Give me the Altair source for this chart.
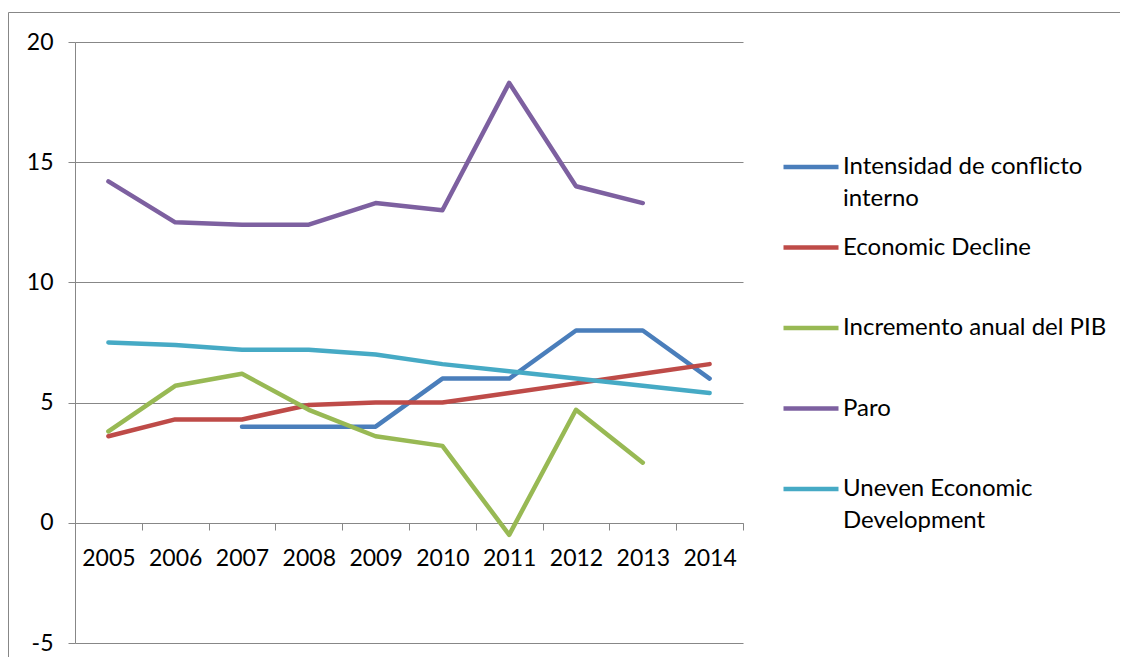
import json
import altair as alt
import pandas as pd

# ---- data ----
years = [2005, 2006, 2007, 2008, 2009, 2010, 2011, 2012, 2013, 2014]
series_names = [
    "Intensidad de conflicto interno",
    "Economic Decline",
    "Incremento anual del PIB",
    "Paro",
    "Uneven Economic Development",
]
intensidad = [None, None, 4.0, 4.0, 4.0, 6.0, 6.0, 8.0, 8.0, 6.0]
economic_decline = [3.6, 4.3, 4.3, 4.9, 5.0, 5.0, 5.4, 5.8, 6.2, 6.6]
incremento_pib = [3.8, 5.7, 6.2, 4.7, 3.6, 3.2, -0.5, 4.7, 2.5, None]
paro = [14.2, 12.5, 12.4, 12.4, 13.3, 13.0, 18.3, 14.0, 13.3, None]
uneven = [7.5, 7.4, 7.2, 7.2, 7.0, 6.6, 6.3, 6.0, 5.7, 5.4]
colors = ["#4A7EBB", "#BE4B48", "#98B954", "#7D60A0", "#46AAC5"]
legend_lines = [
    ["Intensidad de conflicto", "interno"],
    ["Economic Decline", ""],
    ["Incremento anual del PIB", ""],
    ["Paro", ""],
    ["Uneven Economic", "Development"],
]
y_ticks = [-5, 0, 5, 10, 15, 20]
x_tick_edges = [2004.5, 2005.5, 2006.5, 2007.5, 2008.5, 2009.5,
                2010.5, 2011.5, 2012.5, 2013.5, 2014.5]

rows = []
for name, vals in zip(series_names, [intensidad, economic_decline, incremento_pib, paro, uneven]):
    for yr, v in zip(years, vals):
        if v is not None:
            rows.append({"year": yr, "value": v, "serie": name})
df = pd.DataFrame(rows)

label_expr = " : ".join(
    f"datum.label == '{n}' ? {json.dumps(l)}" for n, l in zip(series_names, legend_lines)
) + " : datum.label"

FONT = "Lato"
GRAY = "#878787"
W, H = 668, 601

lines = alt.Chart(df).mark_line(strokeWidth=4.5, strokeCap="round", strokeJoin="round").encode(
    x=alt.X("year:Q",
            scale=alt.Scale(domain=[2004.5, 2014.5], nice=False, zero=False),
            axis=alt.Axis(values=x_tick_edges, title=None, grid=False, tickSize=7,
                          labelPadding=17, offset=-120, labelOffset=33.4,
                          labelOverlap=False, labelFlush=False,
                          labelExpr="datum.value < 2014 ? format(datum.value + 0.5, 'd') : ''")),
    y=alt.Y("value:Q",
            scale=alt.Scale(domain=[-5, 20], nice=False, zero=False),
            axis=alt.Axis(values=y_ticks, title=None, grid=True, tickSize=7,
                          labelPadding=15,
                          labelExpr="datum.value < 0 ? '-' + abs(datum.value) : datum.label")),
    color=alt.Color("serie:N",
                    scale=alt.Scale(domain=series_names, range=colors),
                    sort=series_names,
                    legend=alt.Legend(title=None, orient="none", legendX=706, legendY=95,
                                      symbolType="stroke", symbolSize=3025,
                                      symbolStrokeWidth=4.5, labelOffset=2,
                                      labelExpr=label_expr, labelLimit=0,
                                      labelBaseline="middle",
                                      rowPadding=6.5, padding=0)),
)

frame_df = pd.DataFrame({"k": [0]})
frame_left = alt.Chart(frame_df).mark_rule(color=GRAY, strokeWidth=1, clip=False).encode(
    x=alt.value(-66.5), y=alt.value(-29.5), y2=alt.value(H + 60))
frame_top = alt.Chart(frame_df).mark_rule(color=GRAY, strokeWidth=1, clip=False).encode(
    x=alt.value(-66.5), x2=alt.value(W + 500), y=alt.value(-29.5))

chart = alt.layer(lines, frame_left, frame_top).properties(
    width=W, height=H,
    autosize=alt.AutoSizeParams(type="none"),
    padding={"left": 67, "top": 34, "right": 377, "bottom": 14},
    background="white",
).configure(
    view={"stroke": None},
    axis={"domainColor": GRAY, "tickColor": GRAY, "gridColor": GRAY,
          "labelFont": FONT, "labelFontSize": 23, "labelColor": "#000000"},
    legend={"labelFont": FONT, "labelFontSize": 24, "labelColor": "#000000"},
    style={"guide-label": {"lineHeight": 32}},
)

chart.save("out.html", embed_options={"renderer": "svg", "actions": False})
